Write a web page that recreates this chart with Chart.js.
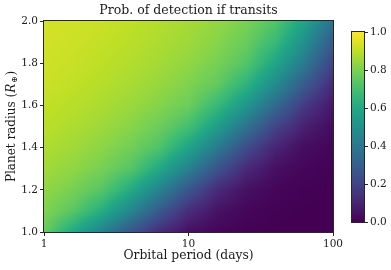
<!DOCTYPE html>
<html>
<head>
<meta charset="utf-8">
<script src="https://cdn.jsdelivr.net/npm/chart.js@4.4.0/dist/chart.umd.min.js"></script>
<style>
  html, body { margin: 0; padding: 0; background: #fff; }
</style>
</head>
<body>
<canvas id="c" width="391" height="270"></canvas>
<script>
// grid: orbital period (days) x planet radius (R_earth)
const periods = [1, 1.585, 2.512, 3.981, 6.31, 10, 15.85, 25.12, 39.81, 63.1, 100];
const radii = [1.0, 1.1, 1.2, 1.3, 1.4, 1.5, 1.6, 1.7, 1.8, 1.9, 2.0];
// one row per radius, one value per period
const prob = [
  [0.77, 0.60, 0.44, 0.26, 0.12, 0.04, 0.013, 0.003, 0, 0, 0],
  [0.81, 0.74, 0.62, 0.46, 0.28, 0.13, 0.05, 0.015, 0.004, 0, 0],
  [0.835, 0.795, 0.735, 0.61, 0.445, 0.265, 0.12, 0.045, 0.014, 0.004, 0],
  [0.86, 0.833, 0.793, 0.732, 0.60, 0.437, 0.257, 0.117, 0.042, 0.013, 0.003],
  [0.88, 0.858, 0.828, 0.785, 0.72, 0.58, 0.41, 0.23, 0.10, 0.035, 0.01],
  [0.895, 0.877, 0.854, 0.822, 0.775, 0.70, 0.555, 0.383, 0.207, 0.088, 0.03],
  [0.907, 0.892, 0.873, 0.849, 0.815, 0.775, 0.67, 0.524, 0.347, 0.17, 0.06],
  [0.92, 0.905, 0.889, 0.869, 0.843, 0.808, 0.756, 0.643, 0.48, 0.29, 0.12],
  [0.927, 0.916, 0.90, 0.884, 0.862, 0.835, 0.795, 0.73, 0.59, 0.41, 0.2],
  [0.932, 0.923, 0.91, 0.894, 0.876, 0.853, 0.82, 0.77, 0.67, 0.5, 0.28],
  [0.934, 0.928, 0.918, 0.902, 0.886, 0.865, 0.838, 0.80, 0.73, 0.58, 0.38]
];
const xTicks = [1, 10, 100];
const yTicks = [1.0, 1.2, 1.4, 1.6, 1.8, 2.0];
const cbTicks = [0.0, 0.2, 0.4, 0.6, 0.8, 1.0];

const viridis = ["#440154", "#482475", "#414487", "#355f8d", "#2a788e", "#21918c",
  "#22a884", "#44bf70", "#7ad151", "#bddf26", "#fde725"].map(h => [
  parseInt(h.slice(1, 3), 16), parseInt(h.slice(3, 5), 16), parseInt(h.slice(5, 7), 16)]);

function cmap(v) {
  v = Math.min(1, Math.max(0, v)) * (viridis.length - 1);
  const k = Math.min(viridis.length - 2, Math.floor(v));
  const t = v - k;
  const a = viridis[k], b = viridis[k + 1];
  return [0, 1, 2].map(c => Math.round(a[c] + (b[c] - a[c]) * t));
}

function locate(arr, v) {
  if (v <= arr[0]) return [0, 0];
  if (v >= arr[arr.length - 1]) return [arr.length - 2, 1];
  let k = 0;
  while (arr[k + 1] < v) k++;
  return [k, (v - arr[k]) / (arr[k + 1] - arr[k])];
}

const textColor = "#1a1a1a";
const serif = "'DejaVu Serif', serif";

const points = [];
radii.forEach((r, j) => periods.forEach((p, i) => points.push({ x: p, y: r, v: prob[j][i] })));

const heatmap = {
  id: "heatmap",
  beforeDatasetsDraw(chart) {
    const { ctx, chartArea: a, scales: { x, y } } = chart;
    const w = Math.round(a.right - a.left), h = Math.round(a.bottom - a.top);
    const off = document.createElement("canvas");
    off.width = w; off.height = h;
    const octx = off.getContext("2d");
    const img = octx.createImageData(w, h);
    const lx = periods.map(p => Math.log10(p));
    for (let py = 0; py < h; py++) {
      const [j, ty] = locate(radii, y.getValueForPixel(a.top + py + 0.5));
      for (let px = 0; px < w; px++) {
        const [i, tx] = locate(lx, Math.log10(x.getValueForPixel(a.left + px + 0.5)));
        const v = (prob[j][i] * (1 - tx) + prob[j][i + 1] * tx) * (1 - ty) +
                  (prob[j + 1][i] * (1 - tx) + prob[j + 1][i + 1] * tx) * ty;
        const c = cmap(v);
        const o = (py * w + px) * 4;
        img.data[o] = c[0]; img.data[o + 1] = c[1]; img.data[o + 2] = c[2]; img.data[o + 3] = 255;
      }
    }
    octx.putImageData(img, 0, 0);
    ctx.drawImage(off, a.left, a.top);
  },
  afterDraw(chart) {
    const { ctx, chartArea: a } = chart;
    ctx.save();
    // frame
    ctx.strokeStyle = "#262626";
    ctx.lineWidth = 1;
    ctx.strokeRect(a.left - 0.5, a.top - 0.5, a.right - a.left + 1, a.bottom - a.top + 1);

    // title, centred over the axes
    ctx.fillStyle = textColor;
    ctx.font = "12.5px " + serif;
    ctx.textAlign = "center";
    ctx.textBaseline = "middle";
    ctx.fillText("Prob. of detection if transits", (a.left + a.right) / 2, 11);

    // y title with italic R and subscript earth symbol
    const parts = [
      { t: "Planet radius (", f: "12px " + serif, dy: 0 },
      { t: "R", f: "italic 12px " + serif, dy: 0 },
      { t: "⊕", f: "8px " + serif, dy: 3 },
      { t: ")", f: "12px " + serif, dy: 0 }
    ];
    let total = 0;
    parts.forEach(p => { ctx.font = p.f; p.w = ctx.measureText(p.t).width; total += p.w + (p.t === "⊕" ? 1.5 : 0); });
    ctx.translate(12, (a.top + a.bottom) / 2);
    ctx.rotate(-Math.PI / 2);
    ctx.textAlign = "left";
    let cx = -total / 2;
    parts.forEach(p => {
      ctx.font = p.f;
      ctx.fillText(p.t, cx + (p.t === "⊕" ? 1 : 0), p.dy);
      cx += p.w + (p.t === "⊕" ? 1.5 : 0);
    });
    ctx.restore();

    // colorbar
    ctx.save();
    const x0 = 352, x1 = 364, top = 32, bottom = 222;
    for (let py = top; py < bottom; py++) {
      const c = cmap(1 - (py + 0.5 - top) / (bottom - top));
      ctx.fillStyle = `rgb(${c[0]},${c[1]},${c[2]})`;
      ctx.fillRect(x0, py, x1 - x0, 1);
    }
    ctx.strokeStyle = "#262626";
    ctx.strokeRect(x0 - 0.5, top - 0.5, x1 - x0 + 1, bottom - top + 1);
    ctx.fillStyle = textColor;
    ctx.font = "10.5px " + serif;
    ctx.textBaseline = "middle";
    ctx.textAlign = "left";
    cbTicks.forEach(t => {
      const py = bottom - t * (bottom - top);
      ctx.beginPath();
      ctx.moveTo(x1 + 0.5, Math.round(py) + 0.5);
      ctx.lineTo(x1 + 4, Math.round(py) + 0.5);
      ctx.stroke();
      ctx.fillText(t.toFixed(1), x1 + 6, py);
    });
    ctx.restore();
  }
};

new Chart(document.getElementById("c"), {
  type: "scatter",
  data: { datasets: [{ data: points, pointRadius: 0, showLine: false }] },
  plugins: [heatmap],
  options: {
    responsive: false,
    animation: false,
    layout: { padding: { left: 0, right: 58, top: 21, bottom: 0 } },
    plugins: {
      legend: { display: false },
      tooltip: { enabled: false },
      title: { display: false }
    },
    scales: {
      x: {
        type: "logarithmic",
        min: 1, max: 100,
        afterFit: s => { s.height = 38; },
        afterBuildTicks: s => { s.ticks = xTicks.map(v => ({ value: v })); },
        grid: { drawOnChartArea: false, drawTicks: true, tickLength: 4, color: "#262626" },
        border: { display: false },
        ticks: {
          color: textColor, font: { family: serif, size: 10.5 }, padding: 2,
          maxRotation: 0, autoSkip: false, callback: v => String(v)
        },
        title: {
          display: true, text: "Orbital period (days)", color: textColor,
          font: { family: serif, size: 12.3 }, padding: { top: 0, bottom: 6.5 }
        }
      },
      y: {
        min: 1, max: 2,
        afterFit: s => { s.width = 44; },
        afterBuildTicks: s => { s.ticks = yTicks.map(v => ({ value: v })); },
        grid: { drawOnChartArea: false, drawTicks: true, tickLength: 4, color: "#262626" },
        border: { display: false },
        ticks: {
          color: textColor, font: { family: serif, size: 10.5 }, padding: 2,
          callback: v => v.toFixed(1)
        }
      }
    }
  }
});
</script>
</body>
</html>
